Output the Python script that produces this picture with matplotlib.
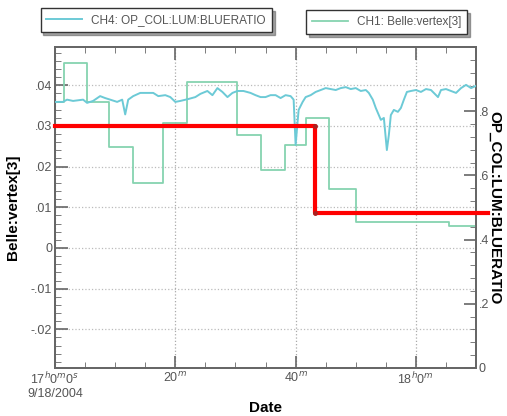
"""Belle vertex vs luminosity blue-ratio strip chart (9/18/2004)."""

import matplotlib
matplotlib.use("Agg")
import matplotlib.pyplot as plt
from matplotlib.ticker import MultipleLocator

plt.rcParams["font.family"] = ["Liberation Sans", "DejaVu Sans"]

# === Data (minutes after 17:00:00) ===
# CH1: Belle:vertex[3] -- step trace, left axis
vertex_edges = [0, 1.5, 5.4, 8.9, 13.0, 17.9, 21.9, 30.2, 34.2, 38.3, 41.7,
                45.6, 50.0, 65.5, 70.0]
vertex_vals = [0.0359, 0.0454, 0.0359, 0.0248, 0.0159, 0.0307, 0.0407, 0.0277,
               0.0191, 0.0253, 0.0319, 0.0146, 0.0065, 0.0053]

# CH4: OP_COL:LUM:BLUERATIO -- right axis
ratio_t = [0, 1.33, 2.0, 3.0, 4.67, 5.33, 6.33, 7.5, 8.33, 9.17, 10.33, 11.17,
           11.67, 12.17, 13.0, 14.17, 15.33, 16.33, 17.17, 18.33, 19.17, 20.0,
           20.83, 22.17, 23.33, 24.17, 25.33, 26.17, 27.0, 27.83, 28.67, 29.5,
           30.33, 31.33, 32.5, 33.33, 34.17, 35.0, 35.83, 36.67, 37.5, 38.33,
           39.17, 39.67, 40.0, 40.5, 41.17, 41.67, 42.5, 43.33, 44.17, 45.0,
           45.83, 46.67, 47.5, 48.33, 49.17, 50.0, 50.83, 51.67, 52.17, 52.83,
           53.33, 53.83, 54.17, 54.67, 55.17, 55.5, 55.83, 56.33, 57.0, 57.5,
           58.0, 58.5, 59.17, 60.0, 60.83, 61.67, 62.5, 63.67, 64.17, 65.0,
           65.83, 66.67, 67.5, 68.33, 69.17, 70.0]
ratio_vals = [0.829, 0.829, 0.836, 0.832, 0.836, 0.826, 0.832, 0.847, 0.841,
              0.836, 0.829, 0.836, 0.790, 0.836, 0.847, 0.857, 0.857, 0.857,
              0.847, 0.850, 0.844, 0.829, 0.832, 0.838, 0.844, 0.854, 0.863,
              0.850, 0.872, 0.860, 0.844, 0.857, 0.863, 0.863, 0.857, 0.850,
              0.844, 0.844, 0.850, 0.850, 0.841, 0.850, 0.847, 0.836, 0.695,
              0.804, 0.829, 0.844, 0.850, 0.860, 0.866, 0.872, 0.869, 0.866,
              0.872, 0.875, 0.869, 0.872, 0.863, 0.866, 0.857, 0.836, 0.810,
              0.788, 0.773, 0.779, 0.679, 0.726, 0.788, 0.804, 0.798, 0.810,
              0.836, 0.860, 0.863, 0.866, 0.860, 0.869, 0.866, 0.844, 0.866,
              0.869, 0.863, 0.857, 0.872, 0.882, 0.872, 0.879]

# red overlay (left-axis units)
red_t = [0, 43.3, 43.3, 72.0]
red_v = [0.0300, 0.0300, 0.0086, 0.0086]

x_ticks = [0, 20, 40, 60]
x_labels = ["17$^h$0$^m$0$^s$\n9/18/2004", "20$^m$", "40$^m$", "18$^h$0$^m$"]
left_ticks = [-0.02, -0.01, 0, 0.01, 0.02, 0.03, 0.04]
left_labels = ["-.02", "-.01", "0", ".01", ".02", ".03", ".04"]
right_ticks = [0, 0.2, 0.4, 0.6, 0.8]
right_labels = ["0", ".2", ".4", ".6", ".8"]

LEFT_LIM = (-0.0295, 0.0494)
GREEN = "#86d3b0"
CYAN = "#6ccad6"
TXT = "#555555"

fig = plt.figure(figsize=(5.07, 4.16), dpi=100)
ax = fig.add_axes([0.1085, 0.1154, 0.8305, 0.7716])
ax2 = ax.twinx()

# green step (left axis)
ln1, = ax.step(vertex_edges, vertex_vals + [vertex_vals[-1]], where="post",
               color=GREEN, linewidth=1.3, zorder=3)
# cyan trace (right axis)
ln4, = ax2.plot(ratio_t, ratio_vals, color=CYAN, linewidth=1.4, zorder=3)

ax.set_xlim(0, 70)
ax.set_ylim(*LEFT_LIM)
ax2.set_ylim(0, 1.0)

ax.set_xticks(x_ticks)
ax.set_xticklabels(x_labels, fontsize=9, color=TXT)
ax.xaxis.set_minor_locator(MultipleLocator(5))
ax.set_yticks(left_ticks)
ax.set_yticklabels(left_labels, fontsize=9, color=TXT)
ax.yaxis.set_minor_locator(MultipleLocator(0.002))
ax2.set_yticks(right_ticks)
ax2.set_yticklabels(right_labels, fontsize=9, color=TXT)
ax2.yaxis.set_minor_locator(MultipleLocator(0.04))

ax.tick_params(axis="x", which="both", direction="in", top=True,
               color="#666666", pad=2)
ax.tick_params(axis="x", which="major", length=9, width=1.2)
ax.tick_params(axis="x", which="minor", length=4)
ax.tick_params(axis="y", which="both", direction="in", color="#666666", pad=2)
ax.tick_params(axis="y", which="major", length=9, width=1.2)
ax.tick_params(axis="y", which="minor", length=4)
ax2.tick_params(axis="y", which="both", direction="in", color="#666666", pad=2)
ax2.tick_params(axis="y", which="major", length=9, width=1.2)
ax2.tick_params(axis="y", which="minor", length=4)

ax.grid(True, axis="y", linestyle=":", color="#bbbbbb", linewidth=0.9)
ax.grid(True, axis="x", linestyle=":", color="#aaaaaa", linewidth=0.9)
for a in (ax, ax2):
    for s in a.spines.values():
        s.set_color("#666666")
        s.set_linewidth(1.3)

ax.set_xlabel("Date", fontsize=11, fontweight="bold", va="center")
ax.xaxis.set_label_coords(0.5, -0.125)
ax.set_ylabel("Belle:vertex[3]", fontsize=11, fontweight="bold")
ax.yaxis.set_label_coords(-0.083, 0.5)
ax2.set_ylabel("OP_COL:LUM:BLUERATIO", fontsize=11, fontweight="bold",
               rotation=270, va="center", ha="center")
ax2.yaxis.set_label_coords(1.045, 0.5)

# red overlay on top of everything
span = LEFT_LIM[1] - LEFT_LIM[0]
ax2.plot(red_t, [(v - LEFT_LIM[0]) / span for v in red_v],
         color="#ff0000", linewidth=3.0, clip_on=False, zorder=10,
         marker="o", markersize=2.5, markerfacecolor="#aa2222",
         markeredgecolor="#aa2222", markevery=[1, 2])

leg_kw = dict(fontsize=8.5, frameon=True, fancybox=False, shadow=True,
              edgecolor="#333333", handlelength=3.0, borderpad=0.5)
l4 = fig.legend([ln4], ["CH4: OP_COL:LUM:BLUERATIO"], loc="center",
                bbox_to_anchor=(0.308, 0.952), **leg_kw)
l1 = fig.legend([ln1], ["CH1: Belle:vertex[3]"], loc="center",
                bbox_to_anchor=(0.763, 0.947), **leg_kw)
for lg in (l4, l1):
    for t in lg.get_texts():
        t.set_color(TXT)

fig.savefig("out.png", dpi=100)
